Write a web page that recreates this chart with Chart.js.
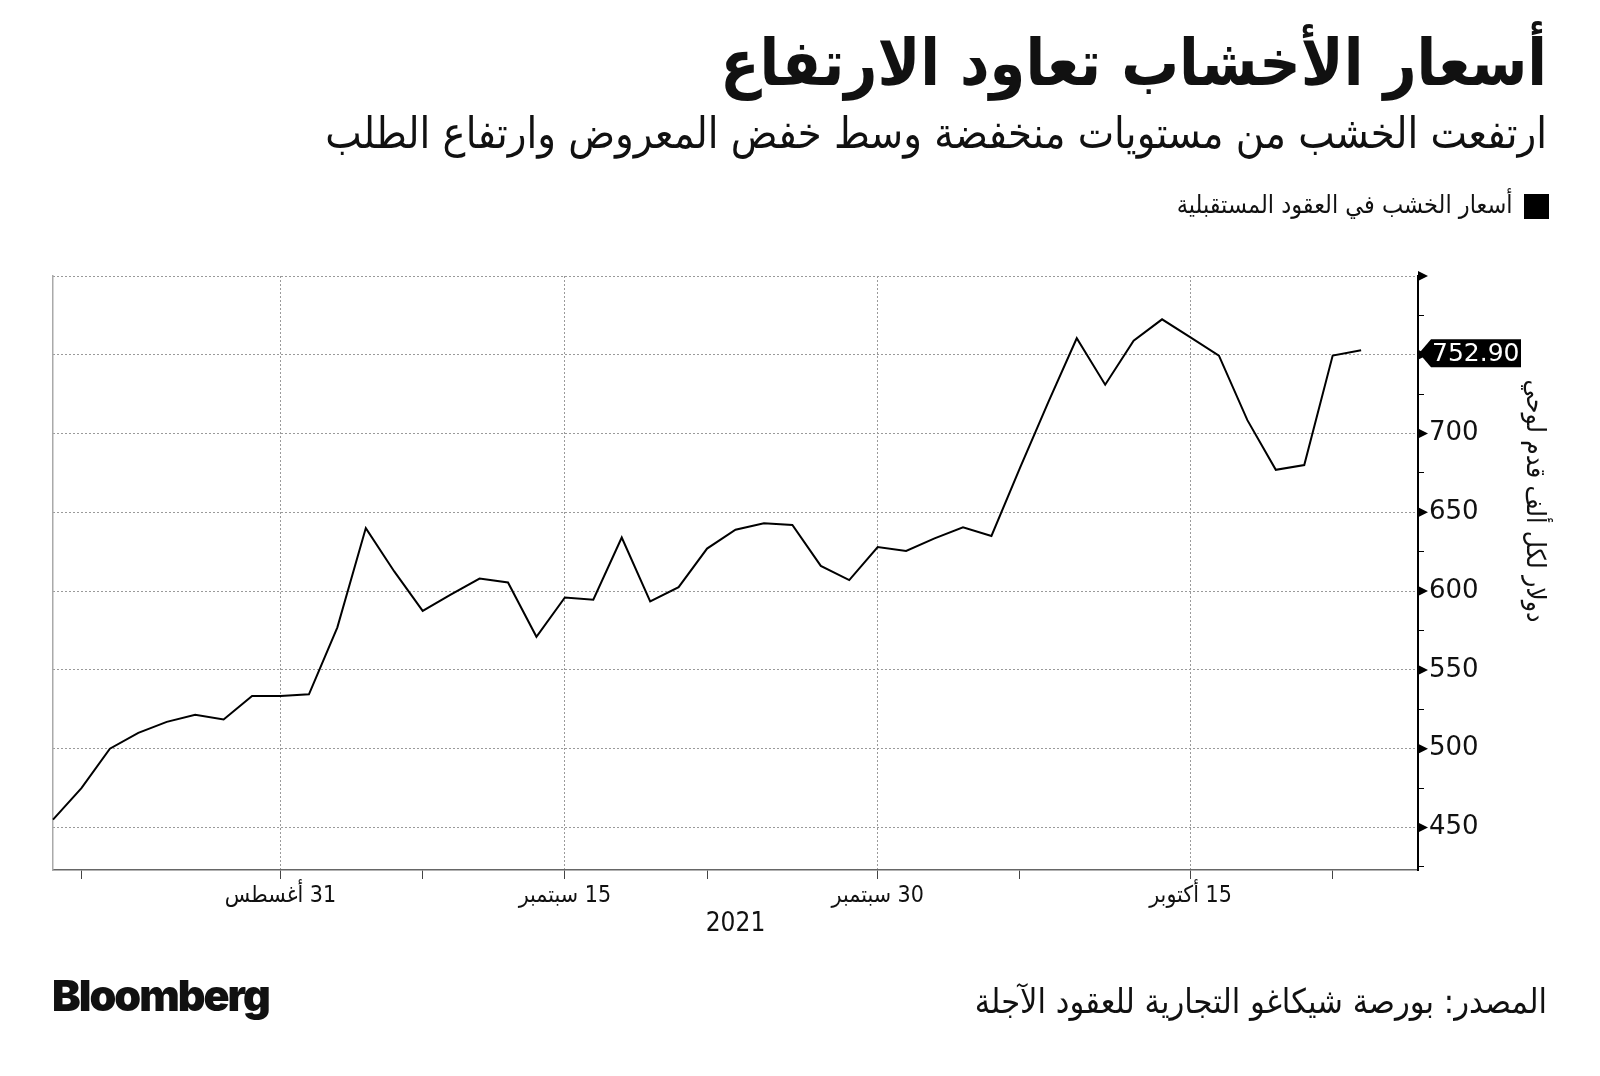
<!DOCTYPE html>
<html>
<head>
<meta charset="utf-8">
<script src="https://cdn.jsdelivr.net/npm/chart.js@4/dist/chart.umd.min.js"></script>
<style>
  html, body { margin: 0; padding: 0; background: #fff; }
  #page { position: relative; width: 1600px; height: 1076px; overflow: hidden; }
  #chart { position: absolute; left: 0; top: 0; }
  .txt { position: absolute; color: #111; white-space: nowrap; }
  .ar { direction: rtl; right: 53px; font-family: "DejaVu Sans Condensed", "DejaVu Sans", sans-serif; }
  #title { top: 26px; font-size: 64px; font-weight: bold; }
  #subtitle { top: 108px; font-size: 43px; }
  #source { top: 981px; font-size: 34px; }
  #brand { left: 52px; top: 969px; font-family: Inter, "Liberation Sans", Arial, sans-serif; font-weight: 900; font-size: 43px; letter-spacing: -2px; }
</style>
</head>
<body>
<div id="page">
  <canvas id="chart" dir="rtl" width="1600" height="1076"></canvas>
  <div id="title" class="txt ar">أسعار الأخشاب تعاود الارتفاع</div>
  <div id="subtitle" class="txt ar">ارتفعت الخشب من مستويات منخفضة وسط خفض المعروض وارتفاع الطلب</div>
  <div id="source" class="txt ar">المصدر: بورصة شيكاغو التجارية للعقود الآجلة</div>
  <div id="brand" class="txt">Bloomberg</div>
</div>
<script>
// trading days shown on the axis (last two carry no price yet)
const dates = [
  "2021-08-19", "2021-08-20", "2021-08-23", "2021-08-24", "2021-08-25", "2021-08-26", "2021-08-27", "2021-08-30", "2021-08-31",
  "2021-09-01", "2021-09-02", "2021-09-03", "2021-09-07", "2021-09-08", "2021-09-09", "2021-09-10", "2021-09-13", "2021-09-14", "2021-09-15",
  "2021-09-16", "2021-09-17", "2021-09-20", "2021-09-21", "2021-09-22", "2021-09-23", "2021-09-24", "2021-09-27", "2021-09-28", "2021-09-29", "2021-09-30",
  "2021-10-01", "2021-10-04", "2021-10-05", "2021-10-06", "2021-10-07", "2021-10-08", "2021-10-11", "2021-10-12", "2021-10-13", "2021-10-14", "2021-10-15",
  "2021-10-18", "2021-10-19", "2021-10-20", "2021-10-21", "2021-10-22", "2021-10-25", "2021-10-26", "2021-10-27"
];

// lumber futures, $ per 1000 board feet
const prices = [
  455, 475, 500, 510, 517, 521.5, 518.5, 533.5, 533.5,
  534.5, 577, 640, 612.5, 587.5, 598, 608, 605.5, 571, 596,
  594.5, 634, 593.5, 602.5, 627, 639, 643, 642, 616, 607, 628,
  625.5, 633.5, 640.5, 635, 678, 720, 760.5, 731, 759, 772.5, 761,
  749.5, 708.5, 677, 680, 749.5, 752.9
];

const majorDates = ["2021-08-31", "2021-09-15", "2021-09-30", "2021-10-15"];
const majorLabels = ["31 أغسطس", "15 سبتمبر", "30 سبتمبر", "15 أكتوبر"];
const minorDates = ["2021-08-20", "2021-09-08", "2021-09-22", "2021-10-07", "2021-10-22"];

const yTicks = [425, 450, 475, 500, 525, 550, 575, 600, 625, 650, 675, 700, 725, 750, 775, 800];
const yLabelled = [450, 500, 550, 600, 650, 700];
const yTitle = "دولار لكل ألف قدم لوحي";

const AR_FONT = '"DejaVu Sans Condensed", "DejaVu Sans", sans-serif';
const GRID = "#9a9a9a";

// push the plot down from the legend
const legendSpacing = {
  id: "legendSpacing",
  beforeInit(chart) {
    const fit = chart.legend.fit;
    chart.legend.fit = function () {
      fit.call(this);
      this.height += 47;
    };
  },
};

// arrow marks on the value axis, the tag with the last price, axis title
const axisMarks = {
  id: "axisMarks",
  afterDraw(chart) {
    const ctx = chart.ctx;
    const y = chart.scales.y;
    const x0 = y.left;
    ctx.save();
    ctx.direction = "ltr";
    ctx.fillStyle = "#000";
    y.ticks.forEach((t) => {
      if (t.value % 50 !== 0) return;
      const py = y.getPixelForValue(t.value);
      ctx.beginPath();
      ctx.moveTo(x0, py - 5);
      ctx.lineTo(x0 + 10, py);
      ctx.lineTo(x0, py + 5);
      ctx.closePath();
      ctx.fill();
    });

    const last = prices[prices.length - 1];
    const py = y.getPixelForValue(last) + 3;
    ctx.beginPath();
    ctx.moveTo(x0 + 1, py);
    ctx.lineTo(x0 + 13, py - 14);
    ctx.lineTo(x0 + 103, py - 14);
    ctx.lineTo(x0 + 103, py + 14);
    ctx.lineTo(x0 + 13, py + 14);
    ctx.closePath();
    ctx.fill();
    ctx.fillStyle = "#fff";
    ctx.font = '25px "DejaVu Sans", sans-serif';
    ctx.textAlign = "left";
    ctx.textBaseline = "middle";
    ctx.fillText(last.toFixed(2), x0 + 14, py + 1);

    // rotated unit title, sitting a bit above the middle of the plot
    const area = chart.chartArea;
    ctx.direction = "rtl";
    ctx.fillStyle = "#111";
    ctx.font = "26px " + AR_FONT;
    ctx.textAlign = "center";
    ctx.textBaseline = "middle";
    ctx.translate(y.right - 24, (area.top + area.bottom) / 2 - 72);
    ctx.rotate(Math.PI / 2);
    ctx.fillText(yTitle, 0, 0);
    ctx.restore();
  },
};

const ctx = document.getElementById("chart").getContext("2d");

new Chart(ctx, {
  type: "line",
  data: {
    labels: dates,
    datasets: [
      {
        label: "أسعار الخشب في العقود المستقبلية",
        data: prices,
        borderColor: "#000",
        backgroundColor: "#000",
        borderWidth: 2,
        pointRadius: 0,
        tension: 0,
        yAxisID: "y",
      },
    ],
  },
  options: {
    responsive: false,
    animation: false,
    layout: { padding: { top: 184, right: 42, bottom: 136, left: 53 } },
    plugins: {
      title: { display: false },
      tooltip: { enabled: false },
      legend: {
        position: "top",
        align: "start",
        rtl: true,
        labels: {
          boxWidth: 23,
          boxHeight: 23,
          padding: 10,
          color: "#111",
          font: { family: AR_FONT, size: 25 },
        },
      },
    },
    scales: {
      x: {
        type: "category",
        offset: false,
        afterFit: (scale) => { scale.height = 70; },
        grid: {
          color: (c) => (majorDates.includes(dates[c.index]) ? GRID : "transparent"),
          tickColor: (c) => {
            const d = dates[c.index];
            return majorDates.includes(d) || minorDates.includes(d) ? "#444" : "transparent";
          },
          tickLength: 9,
          lineWidth: 1,
        },
        border: { color: "#666", width: 1.5, dash: [2, 2] },
        ticks: {
          autoSkip: false,
          maxRotation: 0,
          padding: 3,
          color: "#111",
          font: { family: AR_FONT, size: 23 },
          callback: (value, index) => {
            const k = majorDates.indexOf(dates[index]);
            return k >= 0 ? majorLabels[k] : "";
          },
        },
        title: {
          display: true,
          text: "2021",
          color: "#111",
          font: { family: AR_FONT, size: 26 },
          padding: { top: 0, bottom: 0 },
        },
      },
      y: {
        position: "right",
        min: 423,
        max: 800,
        afterBuildTicks: (axis) => { axis.ticks = yTicks.map((v) => ({ value: v })); },
        afterFit: (scale) => { scale.width = 140; },
        grid: {
          color: (c) => (c.tick && c.tick.value % 50 === 0 ? GRID : "transparent"),
          tickColor: (c) => (c.tick && c.tick.value % 50 !== 0 ? "#000" : "transparent"),
          tickLength: 6,
          lineWidth: 1,
        },
        border: { color: "#000", width: 2, dash: [2, 2] },
        ticks: {
          autoSkip: false,
          padding: 5,
          color: "#111",
          font: { family: '"DejaVu Sans", sans-serif', size: 26 },
          callback: (v) => (yLabelled.includes(v) ? String(v) : ""),
        },
        title: { display: false },
      },
      yLeft: {
        position: "left",
        min: 0,
        max: 1,
        afterFit: (scale) => { scale.width = 0; },
        grid: { display: false, drawTicks: false },
        ticks: { display: false },
        border: { color: "#aaa", width: 1.5 },
      },
    },
  },
  plugins: [legendSpacing, axisMarks],
});
</script>
</body>
</html>
